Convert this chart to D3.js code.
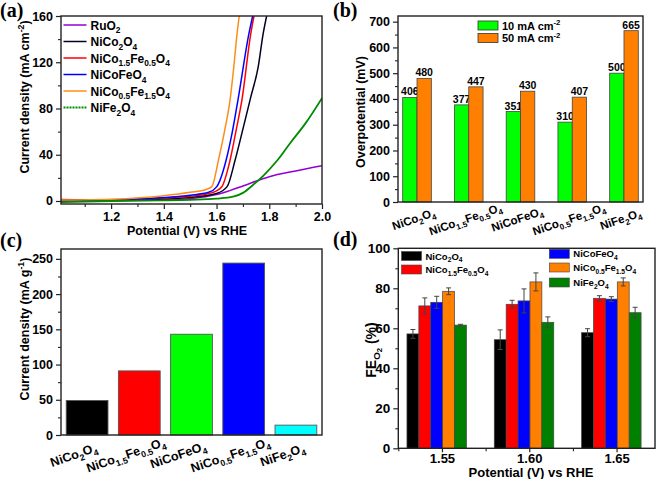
<!DOCTYPE html>
<html><head><meta charset="utf-8">
<script src="https://cdn.jsdelivr.net/npm/d3@7"></script>
<style>
body{margin:0;background:#fff;}
svg text{font-family:"Liberation Sans",Arial,sans-serif;font-weight:bold;fill:#000;}
</style></head><body>
<svg id="c" width="661" height="479"></svg>
<script>
// ================= DATA =================
// (a) LSV curves: [potential V, current density mA cm-2]
const lsvNames = ["RuO2","NiCo2O4","NiCo1.5Fe0.5O4","NiCoFeO4","NiCo0.5Fe1.5O4","NiFe2O4"];
const lsvRuO2 = [[1.01,0],[1.2,0.2],[1.4,0.8],[1.5,2],[1.6,5.5],[1.65,9],[1.7,13],[1.8,21],[1.9,26],[2.0,30.5]];
const lsvNiCo2O4 = [[1.01,0.3],[1.2,0.6],[1.4,1.8],[1.5,3],[1.6,6.5],[1.64,12.4],[1.67,35],[1.696,58.5],[1.73,90],[1.758,116],[1.777,145],[1.79,160]];
const lsvNiCo15 = [[1.01,1.2],[1.1,1.0],[1.2,1.0],[1.4,2.5],[1.5,4],[1.58,7],[1.62,12.4],[1.651,35],[1.675,62],[1.696,87],[1.73,145],[1.742,160]];
const lsvNiCoFe = [[1.01,0.5],[1.2,0.8],[1.4,3],[1.5,5],[1.57,7.5],[1.601,12.4],[1.636,35],[1.66,60],[1.681,87],[1.723,145],[1.737,160]];
const lsvNiCo05 = [[1.01,0.8],[1.2,1.5],[1.4,4.5],[1.5,7.5],[1.56,10],[1.582,12.4],[1.607,35],[1.63,60],[1.651,87],[1.665,115],[1.678,145],[1.686,160]];
const lsvNiFe2O4 = [[1.01,-1],[1.2,0],[1.4,0.5],[1.5,1],[1.6,2],[1.663,3.7],[1.7,7],[1.738,13.8],[1.776,21.6],[1.83,35],[1.879,50],[1.94,68],[2.0,89]];
const lsvXTicks = [1.2,1.4,1.6,1.8,2.0];
const lsvXMinor = [1.1,1.3,1.5,1.7,1.9];
const lsvYTicks = [0,40,80,120,160];
const lsvYMinor = [20,60,100,140];

// (b) overpotentials (mV)
const catNames = ["NiCo2O4","NiCo1.5Fe0.5O4","NiCoFeO4","NiCo0.5Fe1.5O4","NiFe2O4"];
const eta10 = [406,377,351,310,500];
const eta50 = [480,447,430,407,665];
const etaLegend = ["10 mA cm","50  mA cm"];
const etaYTicks = [0,100,200,300,400,500,600,700];
const etaYMinor = [50,150,250,350,450,550,650];

// (c) mass activity (mA g-1)
const massActivity = [49,91,143,244,14];
const massYTicks = [0,50,100,150,200,250];
const massYMinor = [25,75,125,175,225];

// (d) Faradaic efficiency (%)
const fePotentials = [1.55,1.60,1.65];
const feMinor = [1.525,1.575,1.625];
const feNiCo2O4 = [57.2,54.3,57.8];   const feErrNiCo2O4 = [2.2,4.9,2.0];
const feNiCo15 = [71.2,72.0,75.0];    const feErrNiCo15 = [4.0,2.0,1.3];
const feNiCoFe = [73.0,73.7,74.6];    const feErrNiCoFe = [3.0,6.0,1.2];
const feNiCo05 = [78.5,83.2,83.2];    const feErrNiCo05 = [1.7,4.5,2.0];
const feNiFe2O4 = [61.6,63.0,67.8];   const feErrNiFe2O4 = [0.4,2.7,2.7];
const feYTicks = [0,20,40,60,80,100];
const feYMinor = [10,30,50,70,90];

// ================= HELPERS =================
const svg = d3.select("#c");
const FRAME = "#222";

function addChem(t, str, fs) {
  const parts = str.match(/[0-9.]+|[^0-9.]+/g);
  const shift = fs * 0.3;
  let down = false;
  parts.forEach(p => {
    const isSub = /^[0-9.]+$/.test(p);
    const ts = t.append("tspan").text(p);
    if (isSub) { ts.attr("dy", shift).attr("font-size", fs * 0.7); down = true; }
    else if (down) { ts.attr("dy", -shift); down = false; }
  });
  return t;
}
function addRich(t, segs, fs) {
  let off = 0;
  segs.forEach(s => {
    const ts = t.append("tspan").text(s[0]);
    let target = 0;
    if (s[1] === "sup") target = -fs * 0.4;
    if (s[1] === "sub") target = fs * 0.3;
    if (s[1] === "subsub") target = fs * 0.45;
    if (s[1]) ts.attr("font-size", fs * (s[1] === "subsub" ? 0.55 : 0.7));
    if (target !== off) ts.attr("dy", target - off);
    off = target;
  });
  return t;
}
function frame(x0, y0, x1, y1) {
  svg.append("rect").attr("x", x0).attr("y", y0).attr("width", x1 - x0).attr("height", y1 - y0)
    .attr("fill", "none").attr("stroke", FRAME).attr("stroke-width", 1.4);
}
function leftAxis(scale, x, major, minor, fs, fmt) {
  const g = svg.append("g").attr("transform", `translate(${x},0)`);
  g.call(d3.axisLeft(scale).tickValues(major).tickSize(5).tickPadding(3).tickFormat(fmt || d3.format("d")));
  g.select(".domain").remove();
  g.attr("font-size", fs).attr("font-family", null);
  g.selectAll("line").attr("stroke", FRAME).attr("stroke-width", 1.2);
  const m = svg.append("g").attr("transform", `translate(${x},0)`);
  m.call(d3.axisLeft(scale).tickValues(minor).tickSize(3).tickFormat(""));
  m.select(".domain").remove();
  m.selectAll("line").attr("stroke", FRAME).attr("stroke-width", 1.1);
}
function bottomAxis(scale, y, major, minor, fs, fmt, size, pad) {
  const g = svg.append("g").attr("transform", `translate(0,${y})`);
  g.call(d3.axisBottom(scale).tickValues(major).tickSize(size).tickPadding(pad).tickFormat(fmt));
  g.select(".domain").remove();
  g.attr("font-size", fs).attr("font-family", null);
  g.selectAll("line").attr("stroke", FRAME).attr("stroke-width", 1.2);
  const m = svg.append("g").attr("transform", `translate(0,${y})`);
  m.call(d3.axisBottom(scale).tickValues(minor).tickSize(3).tickFormat(""));
  m.select(".domain").remove();
  m.selectAll("line").attr("stroke", FRAME).attr("stroke-width", 1.1);
}
function yTitle(x, y, segs, fs) {
  const t = svg.append("text").attr("transform", `translate(${x},${y}) rotate(-90)`)
    .attr("text-anchor", "middle").attr("font-size", fs);
  addRich(t, segs, fs);
}
function panelLabel(x, y, s) {
  svg.append("text").attr("x", x).attr("y", y).text(s)
    .style("font-family", "'Liberation Serif','Times New Roman',serif").attr("font-size", 20);
}

// ================= (a) =================
{
  const x = d3.scaleLinear().domain([1.01, 2.0]).range([61, 322]);
  const y = d3.scaleLinear().domain([-2.6, 160]).range([204, 16]);
  svg.append("clipPath").attr("id", "clipA").append("rect").attr("x", 61).attr("y", 16).attr("width", 261).attr("height", 188);
  const series = [lsvRuO2, lsvNiCo2O4, lsvNiCo15, lsvNiCoFe, lsvNiCo05, lsvNiFe2O4];
  const colors = ["#9400D3", "#000022", "#FF0000", "#0000FF", "#FF8C1A", "#008A00"];
  const line = d3.line().x(d => x(d[0])).y(d => y(d[1])).curve(d3.curveMonotoneX);
  const gl = svg.append("g").attr("clip-path", "url(#clipA)");
  series.forEach((s, i) => {
    gl.append("path").attr("d", line(s)).attr("fill", "none").attr("stroke", colors[i])
      .attr("stroke-width", i === 5 ? 1.8 : 1.5);
  });
  frame(61, 16, 322, 204);
  leftAxis(y, 61, lsvYTicks, lsvYMinor, 12.5);
  bottomAxis(x, 204, lsvXTicks, lsvXMinor, 12.5, d3.format(".1f"), 5, 3);
  // legend
  lsvNames.forEach((n, i) => {
    const ly = 25 + i * 16.5;
    svg.append("line").attr("x1", 63.5).attr("x2", 86.5).attr("y1", ly).attr("y2", ly)
      .attr("stroke", colors[i]).attr("stroke-width", i === 5 ? 2 : 1.5)
      .attr("stroke-dasharray", i === 5 ? "2,1" : null);
    addChem(svg.append("text").attr("x", 90.5).attr("y", ly + 4.5).attr("font-size", 12), n, 12);
  });
  svg.append("text").attr("x", 187).attr("y", 235).attr("text-anchor", "middle").attr("font-size", 12.5)
    .text("Potential (V) vs RHE");
  yTitle(29, 97, [["Current density (mA cm", null], ["-2", "sup"], [")", null]], 12.5);
  panelLabel(0, 17, "(a)");
}

// ================= (b) =================
{
  const x = d3.scaleBand().domain(catNames).range([398, 643]).paddingInner(0.447).paddingOuter(0.091);
  const y = d3.scaleLinear().domain([0, 722]).range([202, 16]);
  const bw = x.bandwidth() / 2;
  const groups = [eta10, eta50];
  const colors = ["#00FF00", "#FF8000"];
  groups.forEach((vals, k) => {
    svg.append("g").selectAll("rect").data(vals).join("rect")
      .attr("x", (d, i) => x(catNames[i]) + k * bw).attr("width", bw)
      .attr("y", d => y(d)).attr("height", d => y(0) - y(d))
      .attr("fill", colors[k]).attr("stroke", "#444").attr("stroke-width", 0.8);
    svg.append("g").selectAll("text").data(vals).join("text")
      .attr("x", (d, i) => x(catNames[i]) + k * bw + bw / 2).attr("y", d => y(d) - 2)
      .attr("text-anchor", "middle").attr("font-size", 10.5).text(d => d);
  });
  frame(398, 16, 643, 202);
  leftAxis(y, 398, etaYTicks, etaYMinor, 12.5);
  catNames.forEach(n => {
    const cx = x(n) + x.bandwidth() / 2 - 2;
    addChem(svg.append("text").attr("transform", `translate(${cx},223) rotate(-19)`)
      .attr("text-anchor", "middle").attr("font-size", 11.5), n, 11.5);
  });
  // legend
  etaLegend.forEach((l, i) => {
    const ly = 21 + i * 12.5;
    svg.append("rect").attr("x", 478).attr("y", ly).attr("width", 20).attr("height", 9)
      .attr("fill", colors[i]).attr("stroke", "#333").attr("stroke-width", 0.8);
    addRich(svg.append("text").attr("x", 502).attr("y", ly + 8.5).attr("font-size", 11),
      [[l, null], ["-2", "sup"]], 11);
  });
  yTitle(365, 112, [["Overpotential (mV)", null]], 12.5);
  panelLabel(333, 17, "(b)");
}

// ================= (c) =================
{
  const x = d3.scaleBand().domain(catNames).range([61, 322]).paddingInner(0.2).paddingOuter(0.1);
  const y = d3.scaleLinear().domain([0, 264]).range([435, 249]);
  const colors = ["#000000", "#FF0000", "#00FF00", "#0000FF", "#00FFFF"];
  svg.append("g").selectAll("rect").data(massActivity).join("rect")
    .attr("x", (d, i) => x(catNames[i])).attr("width", x.bandwidth())
    .attr("y", d => y(d)).attr("height", d => y(0) - y(d))
    .attr("fill", (d, i) => colors[i]).attr("stroke", "#555").attr("stroke-width", 0.9);
  frame(61, 249, 322, 435);
  leftAxis(y, 61, massYTicks, massYMinor, 12.5);
  catNames.forEach(n => {
    const cx = x(n) + x.bandwidth() / 2 - 12;
    addChem(svg.append("text").attr("transform", `translate(${cx},459) rotate(-19)`)
      .attr("text-anchor", "middle").attr("font-size", 12.5), n, 12.5);
  });
  yTitle(29, 329, [["Current density (mA g", null], ["-1", "sup"], [")", null]], 12.5);
  panelLabel(0, 247, "(c)");
}

// ================= (d) =================
{
  const x = d3.scaleLinear().domain([1.525, 1.672]).range([398.3, 655]);
  const y = d3.scaleLinear().domain([0, 100]).range([448.3, 248.3]);
  const vals = [feNiCo2O4, feNiCo15, feNiCoFe, feNiCo05, feNiFe2O4];
  const errs = [feErrNiCo2O4, feErrNiCo15, feErrNiCoFe, feErrNiCo05, feErrNiFe2O4];
  const colors = ["#000000", "#FF0000", "#0000FF", "#FF8000", "#008000"];
  const bw = 11.9;
  vals.forEach((v, k) => {
    const g = svg.append("g");
    g.selectAll("rect").data(v).join("rect")
      .attr("x", (d, i) => x(fePotentials[i]) - 35 + k * bw).attr("width", bw)
      .attr("y", d => y(d)).attr("height", d => y(0) - y(d))
      .attr("fill", colors[k]).attr("stroke", "#444").attr("stroke-width", 0.7);
    v.forEach((d, i) => {
      const cx = x(fePotentials[i]) - 35 + k * bw + bw / 2;
      const e = errs[k][i];
      g.append("path").attr("d", `M${cx},${y(d - e)}V${y(d + e)}M${cx - 2.5},${y(d + e)}H${cx + 2.5}M${cx - 2.5},${y(d - e)}H${cx + 2.5}`)
        .attr("stroke", "#444").attr("stroke-width", 1).attr("fill", "none");
    });
  });
  frame(398.3, 248.3, 655, 448.3);
  leftAxis(y, 398.3, feYTicks, feYMinor, 13.5);
  bottomAxis(x, 448.3, fePotentials, feMinor, 13, d3.format(".2f"), 4, 1);
  // legend
  const pos = [[401.5, 251.5], [401.5, 265], [549.3, 249.3], [549.3, 263], [549.3, 278]];
  catNames.forEach((n, i) => {
    svg.append("rect").attr("x", pos[i][0]).attr("y", pos[i][1]).attr("width", 20).attr("height", 9)
      .attr("fill", colors[i]).attr("stroke", "#444").attr("stroke-width", 0.6);
    addChem(svg.append("text").attr("x", pos[i][0] + 24).attr("y", pos[i][1] + 8).attr("font-size", 9.5), n, 9.5);
  });
  svg.append("text").attr("x", 531).attr("y", 476.5).attr("text-anchor", "middle").attr("font-size", 13)
    .text("Potential (V) vs RHE");
  yTitle(376, 350, [["FE", null], ["O", "sub"], ["2", "subsub"], [" (%)", null]], 14);
  panelLabel(333, 246, "(d)");
}
</script></body></html>
